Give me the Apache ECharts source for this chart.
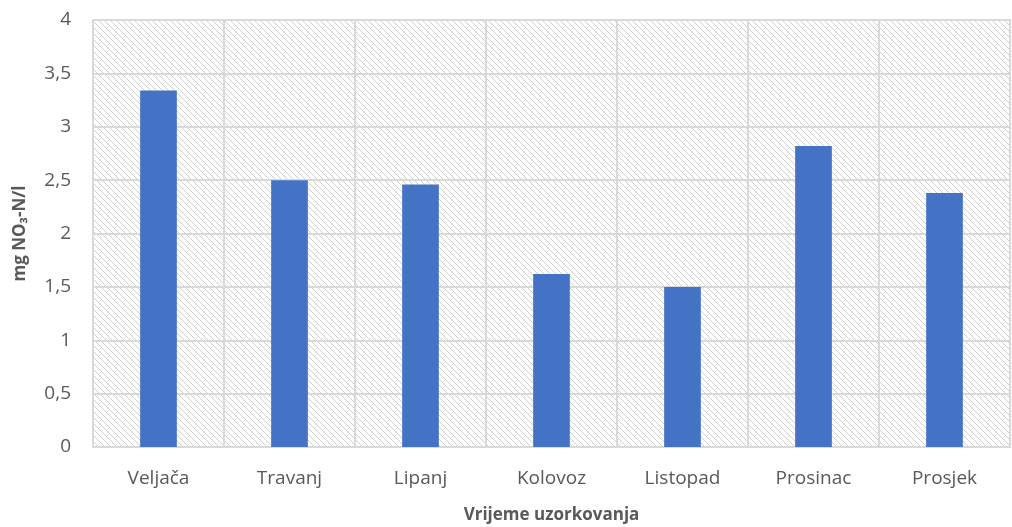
<!DOCTYPE html>
<html>
<head>
<meta charset="utf-8">
<script src="https://cdn.jsdelivr.net/npm/echarts@6/dist/echarts.min.js"></script>
<style>
  html, body { margin: 0; padding: 0; background: #fff; }
  #main { width: 1012px; height: 527px; }
</style>
</head>
<body>
<div id="main"></div>
<script>
var categories = ['Veljača', 'Travanj', 'Lipanj', 'Kolovoz', 'Listopad', 'Prosinac', 'Prosjek'];
var values = [3.34, 2.50, 2.46, 1.62, 1.50, 2.82, 2.38];
var yTicks = [0, 0.5, 1, 1.5, 2, 2.5, 3, 3.5, 4];

// diagonal hatch for plot background
var hatch = document.createElement('canvas');
hatch.width = 6;
hatch.height = 6;
var ctx = hatch.getContext('2d');
ctx.fillStyle = '#fff';
ctx.fillRect(0, 0, 6, 6);
ctx.strokeStyle = '#cfcfcf';
ctx.lineWidth = 1;
ctx.beginPath();
ctx.moveTo(-1, -1); ctx.lineTo(7, 7);
ctx.moveTo(-1, 5); ctx.lineTo(1, 7);
ctx.moveTo(5, -1); ctx.lineTo(7, 1);
ctx.stroke();

var chart = echarts.init(document.getElementById('main'));
var option = {
  animation: false,
  grid: {
    left: 93, right: 2, top: 20, bottom: 80,
    outerBoundsMode: 'none',
    containLabel: false,
    show: true,
    backgroundColor: { image: hatch, repeat: 'repeat' },
    borderColor: '#d9d9d9',
    borderWidth: 2
  },
  xAxis: {
    type: 'category',
    data: categories,
    name: 'Vrijeme uzorkovanja',
    nameLocation: 'middle',
    nameGap: 60,
    nameTextStyle: { fontFamily: 'Open Sans', fontWeight: 'bold', fontSize: 17, color: '#595959' },
    axisLine: { show: false },
    axisTick: { show: false },
    axisLabel: { fontFamily: 'Open Sans', fontSize: 19, color: '#595959', margin: 22 },
    splitLine: { show: true, lineStyle: { color: '#d9d9d9', width: 2 } }
  },
  yAxis: {
    type: 'value',
    min: 0,
    max: 4,
    interval: 0.5,
    name: 'mg NO₃-N/l',
    nameLocation: 'middle',
    nameGap: 64,
    nameTextStyle: { fontFamily: 'Open Sans', fontWeight: 'bold', fontSize: 17, color: '#595959' },
    axisLine: { show: false },
    axisTick: { show: false },
    axisLabel: {
      fontFamily: 'Open Sans', fontSize: 19, color: '#595959', margin: 22,
      formatter: function (v) {
        return yTicks.indexOf(v) >= 0 ? String(v).replace('.', ',') : '';
      }
    },
    splitLine: { show: true, lineStyle: { color: '#d9d9d9', width: 2 } }
  },
  series: [{
    type: 'bar',
    data: values,
    barWidth: '28%',
    itemStyle: { color: '#4472c4' }
  }]
};
chart.setOption(option);
</script>
</body>
</html>
